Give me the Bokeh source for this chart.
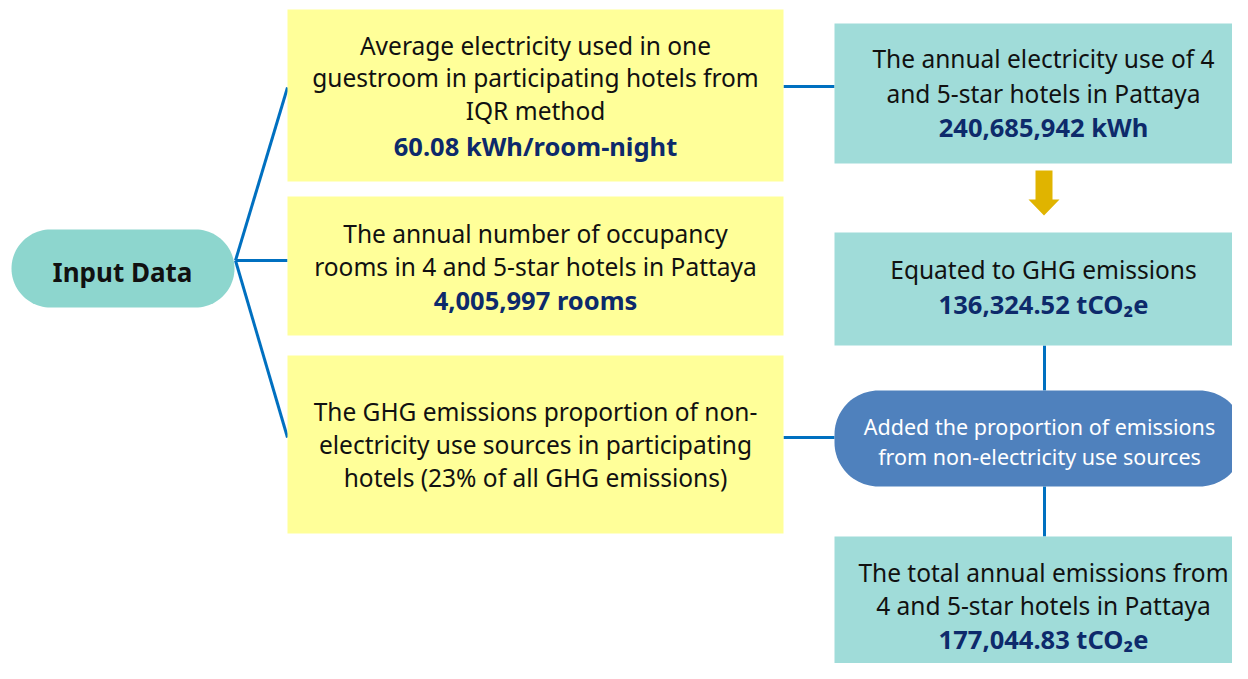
import numpy as np
from bokeh.plotting import figure
from bokeh.models import Range1d
from bokeh.core.properties import value
from bokeh.embed import file_html
from bokeh.resources import INLINE

# ---------------- data (texts) ----------------
input_label = "Input Data"
input_texts = [
    ["Average electricity used in one", "guestroom in participating hotels from", "IQR method"],
    ["The annual number of occupancy", "rooms in 4 and 5-star hotels in Pattaya"],
    ["The GHG emissions proportion of non-", "electricity use sources in participating", "hotels (23% of all GHG emissions)"],
]
input_values = ["60.08 kWh/room-night", "4,005,997 rooms", ""]
result_texts = [
    ["The annual electricity use of 4", "and 5-star hotels in Pattaya"],
    ["Equated to GHG emissions"],
    ["The total annual emissions from", "4 and 5-star hotels in Pattaya"],
]
result_values = ["240,685,942 kWh", "136,324.52 tCO\u2082e", "177,044.83 tCO\u2082e"]
step_text = ["Added the proportion of emissions", "from non-electricity use sources"]

# ---------------- layout (pixel space) ----------------
FONT = "Noto Sans"
YELLOW = "#ffff99"
TEAL = "#a0dcd9"
PILL_TEAL = "#8dd6ce"
PILL_BLUE = "#4f81bd"
LINE = "#0070c0"
DARK = "#0d2a6b"
ARROW = "#e0b400"

yellow_boxes = [(287, 783, 9, 181), (287, 783, 196, 335), (287, 783, 355, 533)]
yellow_line_y = [[45, 77, 110, 145], [233, 266, 299], [411, 444, 477]]
teal_boxes = [(834, 1248, 23, 163), (834, 1248, 232, 345), (834, 1248, 536, 679)]
teal_line_y = [[58, 93, 126], [269, 303], [572, 605, 638]]

p = figure(width=1232, height=663, x_range=Range1d(0, 1232), y_range=Range1d(663, 0),
           output_backend="svg", toolbar_location=None, min_border=0)
p.axis.visible = False
p.grid.visible = False
p.outline_line_color = None
p.background_fill_color = "white"


def rounded(l, r, t, b, rad, n=24):
    xs, ys = [], []
    corners = [(r - rad, t + rad, -np.pi / 2, 0), (r - rad, b - rad, 0, np.pi / 2),
               (l + rad, b - rad, np.pi / 2, np.pi), (l + rad, t + rad, np.pi, 1.5 * np.pi)]
    for cx, cy, a0, a1 in corners:
        a = np.linspace(a0, a1, n)
        xs.extend(cx + rad * np.cos(a))
        ys.extend(cy + rad * np.sin(a))
    return xs, ys


# connectors
p.multi_line(xs=[[235, 287], [235, 287], [235, 287], [783, 834], [783, 834], [1044, 1044], [1044, 1044]],
             ys=[[260, 87], [260, 260], [260, 437], [86, 86], [437, 437], [345, 390], [486, 536]],
             line_color=LINE, line_width=3)

# boxes
p.quad(left=[b[0] for b in yellow_boxes], right=[b[1] for b in yellow_boxes],
       top=[b[2] for b in yellow_boxes], bottom=[b[3] for b in yellow_boxes],
       fill_color=YELLOW, line_color=None)
p.quad(left=[b[0] for b in teal_boxes], right=[b[1] for b in teal_boxes],
       top=[b[2] for b in teal_boxes], bottom=[b[3] for b in teal_boxes],
       fill_color=TEAL, line_color=None)

# pills
px, py = rounded(11, 234, 229, 307, 39)
p.patch(px, py, fill_color=PILL_TEAL, line_color=None)
bx, by = rounded(834, 1243, 390, 486, 44)
p.patch(bx, by, fill_color=PILL_BLUE, line_color=None)

# arrow
ax = 1043.5
p.patch([ax - 8.5, ax + 8.5, ax + 8.5, ax + 15.5, ax, ax - 15.5, ax - 8.5],
        [170, 170, 199, 199, 215, 199, 199], fill_color=ARROW, line_color=None)

# texts
def add_text(x, ys, texts, color, bold, size):
    p.text(x=[x] * len(texts), y=ys, text=texts, text_color=color,
           text_font=value(FONT), text_font_size=size,
           text_font_style="bold" if bold else "normal",
           text_align="center", text_baseline="middle")

for box, ys, lines, val in zip(yellow_boxes, yellow_line_y, input_texts, input_values):
    cx = (box[0] + box[1]) / 2
    add_text(cx, ys[:len(lines)], lines, "#111111", False, "24.5px")
    if val:
        add_text(cx, [ys[len(lines)]], [val], DARK, True, "25.5px")

for box, ys, lines, val in zip(teal_boxes, teal_line_y, result_texts, result_values):
    cx = 1043
    add_text(cx, ys[:len(lines)], lines, "#111111", False, "24.5px")
    add_text(cx, [ys[len(lines)]], [val], DARK, True, "25.5px")

add_text(122, [271], [input_label], "#111111", True, "26px")
add_text(1039, [426, 456], step_text, "white", False, "21.5px")

open("out.html", "w").write(file_html(p, INLINE))
